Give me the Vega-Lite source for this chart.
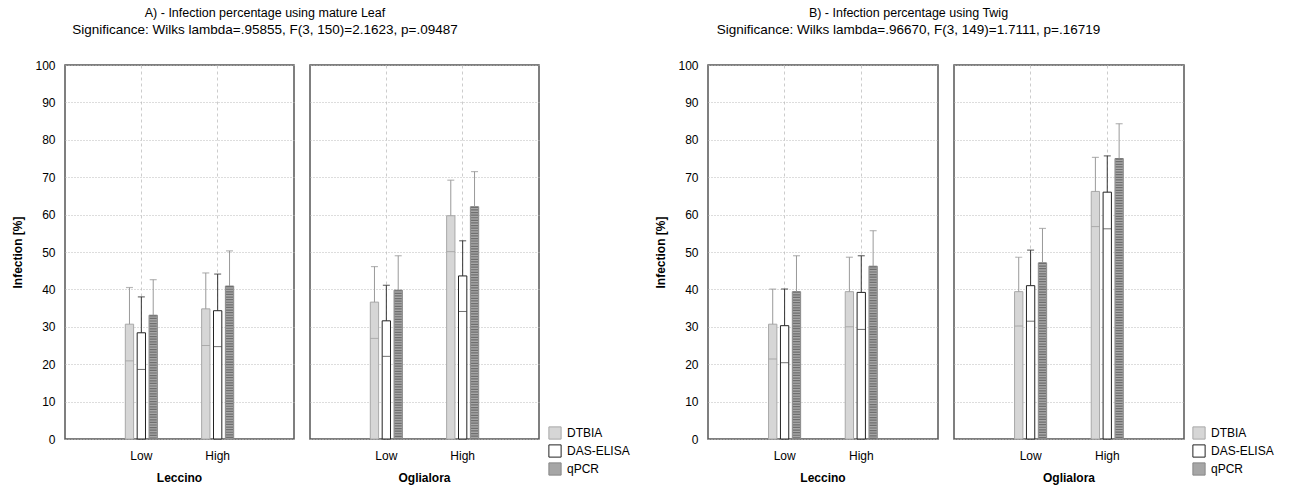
{
  "$schema": "https://vega.github.io/schema/vega-lite/v6.json",
  "padding": {"left": 11, "top": 7, "right": 5, "bottom": 5},
  "background": "white",
  "config": {
    "font": "Liberation Sans",
    "view": {"stroke": "#555555", "strokeWidth": 1.5},
    "axis": {"labelFont": "Liberation Sans", "labelFontSize": 12, "labelColor": "black", "titleFont": "Liberation Sans", "titleFontSize": 12, "titleColor": "black", "domain": false, "ticks": false},
    "axisY": {"tickCount": 11, "labelOverlap": false},
    "header": {"labelOrient": "bottom", "labelFont": "Liberation Sans", "labelFontSize": 12, "labelFontWeight": "bold", "labelColor": "black", "labelPadding": 12, "title": null},
    "legend": {"labelFont": "Liberation Sans", "labelFontSize": 12, "labelColor": "black", "symbolType": "square", "symbolSize": 150, "symbolStrokeWidth": 1, "rowPadding": 0, "labelOffset": 5, "title": null},
    "title": {"font": "Liberation Sans", "fontSize": 12.5, "fontWeight": "normal", "color": "black", "subtitleFont": "Liberation Sans", "subtitleFontSize": 13.5, "subtitleColor": "black", "anchor": "middle", "dx": -56, "offset": 23, "subtitlePadding": 3}
  },
  "datasets": {
    "leaf": [
      {"cultivar": "Leccino", "level": "Low", "method": "DTBIA", "mean": 30.7, "lo": 20.9, "hi": 40.5},
      {"cultivar": "Leccino", "level": "Low", "method": "DAS-ELISA", "mean": 28.4, "lo": 18.6, "hi": 38.0},
      {"cultivar": "Leccino", "level": "Low", "method": "qPCR", "mean": 33.1, "lo": 23.6, "hi": 42.6},
      {"cultivar": "Leccino", "level": "High", "method": "DTBIA", "mean": 34.8, "lo": 25.0, "hi": 44.4},
      {"cultivar": "Leccino", "level": "High", "method": "DAS-ELISA", "mean": 34.3, "lo": 24.7, "hi": 44.1},
      {"cultivar": "Leccino", "level": "High", "method": "qPCR", "mean": 40.9, "lo": 31.5, "hi": 50.3},
      {"cultivar": "Oglialora", "level": "Low", "method": "DTBIA", "mean": 36.6, "lo": 26.9, "hi": 46.1},
      {"cultivar": "Oglialora", "level": "Low", "method": "DAS-ELISA", "mean": 31.6, "lo": 22.1, "hi": 41.1},
      {"cultivar": "Oglialora", "level": "Low", "method": "qPCR", "mean": 39.8, "lo": 30.5, "hi": 49.0},
      {"cultivar": "Oglialora", "level": "High", "method": "DTBIA", "mean": 59.7, "lo": 50.1, "hi": 69.2},
      {"cultivar": "Oglialora", "level": "High", "method": "DAS-ELISA", "mean": 43.6, "lo": 34.1, "hi": 53.0},
      {"cultivar": "Oglialora", "level": "High", "method": "qPCR", "mean": 62.1, "lo": 52.7, "hi": 71.5}
    ],
    "twig": [
      {"cultivar": "Leccino", "level": "Low", "method": "DTBIA", "mean": 30.7, "lo": 21.4, "hi": 40.1},
      {"cultivar": "Leccino", "level": "Low", "method": "DAS-ELISA", "mean": 30.3, "lo": 20.4, "hi": 40.1},
      {"cultivar": "Leccino", "level": "Low", "method": "qPCR", "mean": 39.4, "lo": 29.8, "hi": 49.0},
      {"cultivar": "Leccino", "level": "High", "method": "DTBIA", "mean": 39.4, "lo": 30.0, "hi": 48.6},
      {"cultivar": "Leccino", "level": "High", "method": "DAS-ELISA", "mean": 39.2, "lo": 29.3, "hi": 49.0},
      {"cultivar": "Leccino", "level": "High", "method": "qPCR", "mean": 46.2, "lo": 36.6, "hi": 55.7},
      {"cultivar": "Oglialora", "level": "Low", "method": "DTBIA", "mean": 39.4, "lo": 30.2, "hi": 48.6},
      {"cultivar": "Oglialora", "level": "Low", "method": "DAS-ELISA", "mean": 41.0, "lo": 31.5, "hi": 50.5},
      {"cultivar": "Oglialora", "level": "Low", "method": "qPCR", "mean": 47.1, "lo": 37.4, "hi": 56.3},
      {"cultivar": "Oglialora", "level": "High", "method": "DTBIA", "mean": 66.2, "lo": 56.8, "hi": 75.3},
      {"cultivar": "Oglialora", "level": "High", "method": "DAS-ELISA", "mean": 66.0, "lo": 56.2, "hi": 75.7},
      {"cultivar": "Oglialora", "level": "High", "method": "qPCR", "mean": 75.0, "lo": 65.6, "hi": 84.3}
    ]
  },
  "resolve": {"legend": {"fill": "independent", "stroke": "independent"}},
  "spacing": 24,
  "hconcat": [
    {
      "data": {"name": "leaf"},
      "title": {"text": "A) - Infection percentage using mature Leaf", "subtitle": "Significance: Wilks lambda=.95855, F(3, 150)=2.1623, p=.09487"},
      "facet": {"column": {"field": "cultivar", "type": "nominal", "sort": ["Leccino", "Oglialora"]}},
      "spacing": 14,
      "spec": {
        "width": 229,
        "height": 374,
        "encoding": {
          "x": {"field": "level", "type": "nominal", "sort": ["Low", "High"], "title": null, "scale": {"paddingInner": 0.58, "paddingOuter": 0.79}, "axis": {"labelAngle": 0, "labelPadding": 6, "grid": true, "bandPosition": 0.5, "gridColor": "#cccccc", "gridDash": [3, 3], "gridWidth": 1}},
          "xOffset": {"field": "method", "type": "nominal", "sort": ["DTBIA", "DAS-ELISA", "qPCR"], "scale": {"paddingInner": 0.3, "paddingOuter": 0}}
        },
        "layer": [
          {
            "mark": {"type": "bar", "strokeWidth": 1},
            "encoding": {
              "y": {"field": "mean", "type": "quantitative", "title": "Infection [%]", "scale": {"domain": [0, 100], "nice": false}, "axis": {"values": [0, 10, 20, 30, 40, 50, 60, 70, 80, 90, 100], "tickCount": 11, "labelPadding": 9, "titlePadding": 10, "titleFontWeight": "bold", "grid": true, "gridColor": "#bbbbbb", "gridDash": [1, 2], "gridWidth": 1}},
              "fill": {"field": "method", "type": "nominal", "sort": ["DTBIA", "DAS-ELISA", "qPCR"], "scale": {"domain": ["DTBIA", "DAS-ELISA", "qPCR"], "range": ["#d6d6d6", "#ffffff", "#a6a6a6"]}, "legend": {"orient": "none", "legendX": 483, "legendY": 361}},
              "stroke": {"field": "method", "type": "nominal", "sort": ["DTBIA", "DAS-ELISA", "qPCR"], "scale": {"domain": ["DTBIA", "DAS-ELISA", "qPCR"], "range": ["#a8a8a8", "#222222", "#888888"]}, "legend": {"orient": "none", "legendX": 483, "legendY": 361}}
            }
          },
          {
            "transform": [{"filter": "datum.method === 'qPCR'"}],
            "mark": {"type": "rule", "strokeWidth": 7, "strokeDash": [1.2, 1.4], "color": "#6f6f6f"},
            "encoding": {"y": {"field": "mean", "type": "quantitative"}, "y2": {"datum": 0}}
          },
          {
            "mark": {"type": "rule", "strokeWidth": 1},
            "encoding": {"y": {"field": "mean", "type": "quantitative"}, "y2": {"field": "hi"}, "color": {"field": "method", "type": "nominal", "scale": {"domain": ["DTBIA", "DAS-ELISA", "qPCR"], "range": ["#999999", "#333333", "#999999"]}, "legend": null}}
          },
          {
            "mark": {"type": "tick", "orient": "horizontal", "size": 7, "thickness": 1.2},
            "encoding": {"y": {"field": "hi", "type": "quantitative"}, "color": {"field": "method", "type": "nominal", "legend": null}}
          },
          {
            "mark": {"type": "tick", "orient": "horizontal", "size": 8, "thickness": 1},
            "encoding": {"y": {"field": "lo", "type": "quantitative"}, "color": {"field": "method", "type": "nominal", "legend": null}}
          }
        ]
      }
    },
    {
      "data": {"name": "twig"},
      "title": {"text": "B) - Infection percentage using Twig", "subtitle": "Significance: Wilks lambda=.96670, F(3, 149)=1.7111, p=.16719"},
      "facet": {"column": {"field": "cultivar", "type": "nominal", "sort": ["Leccino", "Oglialora"]}},
      "spacing": 14,
      "spec": {
        "width": 230,
        "height": 374,
        "encoding": {
          "x": {"field": "level", "type": "nominal", "sort": ["Low", "High"], "title": null, "scale": {"paddingInner": 0.58, "paddingOuter": 0.79}, "axis": {"labelAngle": 0, "labelPadding": 6, "grid": true, "bandPosition": 0.5, "gridColor": "#cccccc", "gridDash": [3, 3], "gridWidth": 1}},
          "xOffset": {"field": "method", "type": "nominal", "sort": ["DTBIA", "DAS-ELISA", "qPCR"], "scale": {"paddingInner": 0.3, "paddingOuter": 0}}
        },
        "layer": [
          {
            "mark": {"type": "bar", "strokeWidth": 1},
            "encoding": {
              "y": {"field": "mean", "type": "quantitative", "title": "Infection [%]", "scale": {"domain": [0, 100], "nice": false}, "axis": {"values": [0, 10, 20, 30, 40, 50, 60, 70, 80, 90, 100], "tickCount": 11, "labelPadding": 9, "titlePadding": 10, "titleFontWeight": "bold", "grid": true, "gridColor": "#bbbbbb", "gridDash": [1, 2], "gridWidth": 1}},
              "fill": {"field": "method", "type": "nominal", "sort": ["DTBIA", "DAS-ELISA", "qPCR"], "scale": {"domain": ["DTBIA", "DAS-ELISA", "qPCR"], "range": ["#d6d6d6", "#ffffff", "#a6a6a6"]}, "legend": {"orient": "none", "legendX": 484, "legendY": 361}},
              "stroke": {"field": "method", "type": "nominal", "sort": ["DTBIA", "DAS-ELISA", "qPCR"], "scale": {"domain": ["DTBIA", "DAS-ELISA", "qPCR"], "range": ["#a8a8a8", "#222222", "#888888"]}, "legend": {"orient": "none", "legendX": 484, "legendY": 361}}
            }
          },
          {
            "transform": [{"filter": "datum.method === 'qPCR'"}],
            "mark": {"type": "rule", "strokeWidth": 7, "strokeDash": [1.2, 1.4], "color": "#6f6f6f"},
            "encoding": {"y": {"field": "mean", "type": "quantitative"}, "y2": {"datum": 0}}
          },
          {
            "mark": {"type": "rule", "strokeWidth": 1},
            "encoding": {"y": {"field": "mean", "type": "quantitative"}, "y2": {"field": "hi"}, "color": {"field": "method", "type": "nominal", "scale": {"domain": ["DTBIA", "DAS-ELISA", "qPCR"], "range": ["#999999", "#333333", "#999999"]}, "legend": null}}
          },
          {
            "mark": {"type": "tick", "orient": "horizontal", "size": 7, "thickness": 1.2},
            "encoding": {"y": {"field": "hi", "type": "quantitative"}, "color": {"field": "method", "type": "nominal", "legend": null}}
          },
          {
            "mark": {"type": "tick", "orient": "horizontal", "size": 8, "thickness": 1},
            "encoding": {"y": {"field": "lo", "type": "quantitative"}, "color": {"field": "method", "type": "nominal", "legend": null}}
          }
        ]
      }
    }
  ]
}
